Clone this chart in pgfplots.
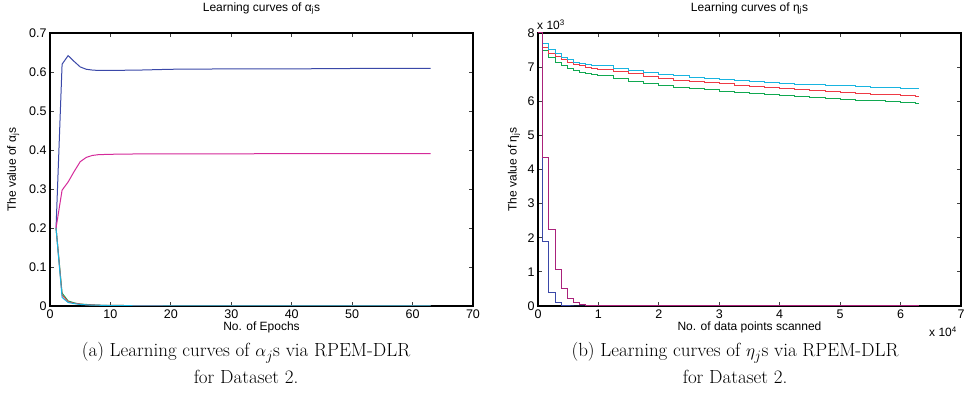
\documentclass[border=0pt]{standalone}
\usepackage{fontspec}
\usepackage{pgfplots}
\pgfplotsset{compat=1.18}
\newfontfamily\helv{Liberation Sans}

\definecolor{mblue}{HTML}{3A48A8}
\definecolor{mgreen}{HTML}{10A850}
\definecolor{mred}{HTML}{EE3A45}
\definecolor{mcyan}{HTML}{18B4E0}
\definecolor{mmag}{HTML}{D42A9A}

% alpha_j learning curves (epochs)
\pgfplotstableread{
x   b      g      r      c      m
1   0.200  0.200  0.200  0.200  0.200
2   0.620  0.033  0.028  0.022  0.297
3   0.642  0.013  0.011  0.009  0.318
4   0.627  0.008  0.007  0.006  0.345
5   0.613  0.005  0.005  0.004  0.370
6   0.607  0.004  0.003  0.003  0.381
7   0.605  0.003  0.003  0.002  0.386
8   0.604  0.002  0.002  0.002  0.388
10  0.604  0.0015 0.0015 0.001  0.389
15  0.605  0.001  0.001  0.0005 0.390
20  0.607  0.0005 0.0005 0.0003 0.390
30  0.608  0.0002 0.0002 0.0001 0.390
40  0.608  0.0001 0.0001 0.0001 0.391
50  0.609  0      0      0      0.391
63  0.609  0      0      0      0.391
}\alphatab

% eta_j learning curves, x in 10^4 points, y in 10^3
\pgfplotstableread{
x     c     r     g
0     8.00  8.00  8.00
0.08  7.68  7.58  7.48
0.18  7.51  7.41  7.27
0.29  7.39  7.30  7.15
0.39  7.29  7.22  7.06
0.49  7.21  7.15  6.97
0.59  7.15  7.09  6.90
0.69  7.12  7.04  6.84
0.79  7.09  7.00  6.80
0.89  7.06  6.97  6.77
0.99  7.04  6.94  6.74
1.25  6.97  6.87  6.66
1.50  6.91  6.80  6.59
1.75  6.85  6.73  6.52
2.00  6.79  6.67  6.45
2.25  6.74  6.62  6.41
2.50  6.70  6.58  6.37
2.75  6.66  6.54  6.33
3.00  6.63  6.51  6.30
3.25  6.60  6.47  6.26
3.50  6.57  6.43  6.23
3.75  6.54  6.40  6.20
4.00  6.52  6.37  6.17
4.25  6.50  6.34  6.14
4.50  6.48  6.31  6.11
4.75  6.46  6.28  6.08
5.00  6.45  6.26  6.06
5.25  6.43  6.23  6.03
5.50  6.41  6.21  6.01
5.75  6.39  6.19  5.99
6.00  6.38  6.17  5.97
6.25  6.36  6.14  5.94
6.30  6.36  6.14  5.94
}\etahigh

\pgfplotstableread{
x     b     m
0     8.00  8.00
0.08  1.88  4.35
0.18  0.41  2.23
0.29  0.10  1.08
0.39  0.02  0.50
0.49  0.00  0.23
0.59  0.00  0.10
0.69  0.00  0.04
0.79  0.00  0.01
0.89  0.00  0.00
6.3   0.00  0.00
}\etalow

\pgfplotsset{
  mstyle/.style={
    scale only axis, width=423pt, height=273pt,
    axis line style={black, line width=1.2pt},
    tick style={black!75, line width=0.8pt},
    major tick length=4pt,
    tick align=inside,
    tick label style={font=\helv\fontsize{12.5}{14}\selectfont},
    xticklabel={\pgfmathprintnumber[assume math mode=true]{\tick}},
    yticklabel={\pgfmathprintnumber[assume math mode=true]{\tick}},
    label style={font=\helv\fontsize{12}{14}\selectfont},
    title style={font=\helv\fontsize{12}{14}\selectfont, at={(axis description cs:0.5,1.058)}, anchor=base},
    xlabel style={at={(axis description cs:0.5,-0.08)}, anchor=center},
    every axis plot/.append style={line width=1pt, no marks},
  }
}

\begin{document}
\begin{tikzpicture}
\path[use as bounding box] (0,0) rectangle (967pt,-411pt);

\begin{axis}[mstyle, at={(50pt,-306pt)}, anchor=south west,
  xmin=0, xmax=70, ymin=0, ymax=0.7,
  xtick={0,10,...,70},
  ytick={0,0.1,...,0.7},
  title={Learning curves of α\textsubscript{j}s},
  xlabel={No. of Epochs},
  ylabel={The value of α\textsubscript{j}s},
  ylabel style={at={(axis description cs:-0.087,0.5)}, anchor=center},
]
\addplot[mblue] table[x=x, y=b] {\alphatab};
\addplot[mgreen] table[x=x, y=g] {\alphatab};
\addplot[mred] table[x=x, y=r] {\alphatab};
\addplot[mcyan] table[x=x, y=c] {\alphatab};
\addplot[mmag] table[x=x, y=m] {\alphatab};
\end{axis}

\begin{axis}[mstyle, name=R, at={(538pt,-306pt)}, anchor=south west,
  xmin=0, xmax=7, ymin=0, ymax=8,
  xtick={0,1,...,7},
  ytick={0,1,...,8},
  title={Learning curves of η\textsubscript{j}s},
  xlabel={No. of data points scanned},
  ylabel={The value of η\textsubscript{j}s},
  ylabel style={at={(axis description cs:-0.057,0.5)}, anchor=center},
]
\addplot[mblue, const plot] table[x=x, y=b] {\etalow};
\addplot[mgreen, const plot] table[x=x, y=g] {\etahigh};
\addplot[mred, const plot] table[x=x, y=r] {\etahigh};
\addplot[mcyan, const plot] table[x=x, y=c] {\etahigh};
\addplot[mmag!80!black, const plot] table[x=x, y=m] {\etalow};
\end{axis}

\node[font=\helv\fontsize{12}{14}\selectfont, anchor=base west, inner sep=0pt]
  at (537pt,-30pt) {x 10\textsuperscript{3}};
\node[font=\helv\fontsize{12}{14}\selectfont, anchor=base east, inner sep=0pt]
  at (957pt,-337pt) {x 10\textsuperscript{4}};

\node[anchor=base, font=\fontsize{19}{23}\selectfont] at (246pt,-357pt)
  {(a) Learning curves of $\alpha_j$s via RPEM-DLR};
\node[anchor=base, font=\fontsize{19}{23}\selectfont] at (246pt,-384pt)
  {for Dataset 2.};
\node[anchor=base, font=\fontsize{19}{23}\selectfont] at (735pt,-357pt)
  {(b) Learning curves of $\eta_j$s via RPEM-DLR};
\node[anchor=base, font=\fontsize{19}{23}\selectfont] at (735pt,-384pt)
  {for Dataset 2.};
\end{tikzpicture}
\end{document}
